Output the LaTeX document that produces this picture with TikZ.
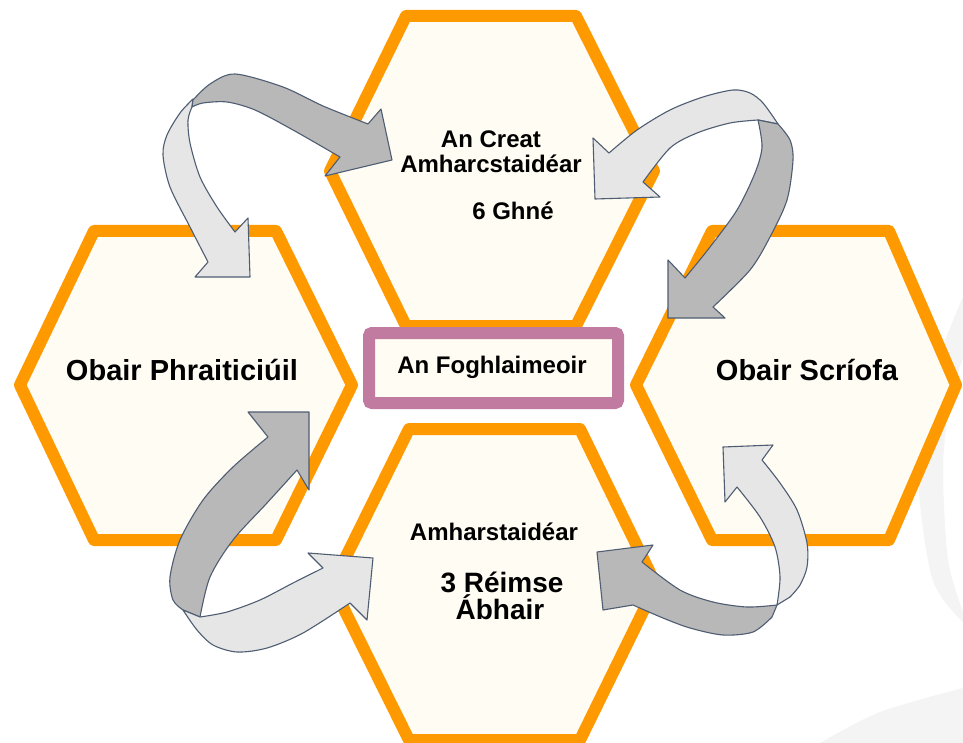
\documentclass[tikz,border=0pt]{standalone}
\usepackage{fontspec}
\setmainfont{Liberation Sans}
\definecolor{hexorange}{HTML}{FF9900}
\definecolor{hexfill}{HTML}{FFFCF3}
\definecolor{boxpink}{HTML}{C27BA0}
\definecolor{arrowdark}{HTML}{B8B8B8}
\definecolor{arrowlight}{HTML}{E6E6E6}
\definecolor{arrowline}{HTML}{4E5D72}
\definecolor{faintgrey}{HTML}{F4F4F4}
\begin{document}
\begin{tikzpicture}[x=1pt,y=-1pt,
  hexa/.style={draw=hexorange, fill=hexfill, line width=12pt, line join=round},
  centrebox/.style={draw=boxpink, fill=hexfill, line width=12pt, rounded corners=3pt},
  darkarrow/.style={draw=arrowline, fill=arrowdark, line width=1.1pt, line join=round},
  lightarrow/.style={draw=arrowline, fill=arrowlight, line width=1.1pt, line join=round},
  lbl/.style={anchor=base, inner sep=0pt, font=\bfseries\fontsize{#1}{#1}\selectfont},
  faint/.style={fill=faintgrey, draw=none}
]
\useasboundingbox (0,0) rectangle (963,743);
\fill[white] (0,0) rectangle (963,743);
% faint background shapes
\path[faint] plot[smooth] coordinates {(963,297) (935,370) (918,467) (932,578) (963,622)}
  -- plot[smooth] coordinates {(963,612) (948,560) (943,467) (950,400) (963,358)} -- cycle;
\path[faint] plot[smooth] coordinates {(820,743) (880,712) (963,688)} -- (963,743) -- cycle;

% hexagons
\draw[hexa] (406,16) -- (576,16) -- (654,171) -- (576,326) -- (406,326) -- (330,171) -- cycle;
\draw[hexa] (94,231) -- (276,231) -- (352,385) -- (276,540) -- (94,540) -- (20,385) -- cycle;
\draw[hexa] (712,231) -- (889,231) -- (956,385) -- (889,540) -- (712,540) -- (636,385) -- cycle;
\draw[hexa] (409,429) -- (580,429) -- (656,585) -- (580,740) -- (409,740) -- (332,585) -- cycle;

% centre box
\draw[centrebox] (369,333) rectangle (618,403);
\node[lbl=24] (learner) at (492,373) {An Foghlaimeoir};

% labels
\node[lbl=24] (creat1) at (491,148) {An Creat};
\node[lbl=24] (creat2) at (491,173) {Amharcstaidéar};
\node[lbl=24] (ghne) at (513,220) {6 Ghné};
\node[lbl=29] (praitic) at (182,380) {Obair Phraiticiúil};
\node[lbl=29] (scriofa) at (807,380) {Obair Scríofa};
\node[lbl=24] (amhar) at (494,540) {Amharstaidéar};
\node[lbl=28] (reimse) at (502,592) {3 Réimse};
\node[lbl=28] (abhair) at (500,619) {Ábhair};

% pair 1 (top left)
\path[lightarrow] (193,99) -- plot[smooth] coordinates {(193,99) (180,113) (167,135) (163,155) (170,187) (190,227) (208,262)}
  -- (195,277) -- (250,277) -- (248,218) -- (235,232)
  -- plot[smooth] coordinates {(235,232) (217,207) (200,177) (190,143) (188,120) (192,107)} -- cycle;
\path[darkarrow] (192,107) -- (193,100) -- plot[smooth] coordinates {(193,100) (210,84) (235,74) (283,87) (323,106) (368,124)}
  -- (381,109) -- (392,160) -- (325,176) -- (340,157)
  -- plot[smooth] coordinates {(340,157) (293,130) (255,110) (227,102) (203,103) (192,107)} -- cycle;

% pair 2 (top right)
\path[lightarrow] (778,124) -- plot[smooth] coordinates {(778,124) (763,103) (750,93) (733,90) (703,97) (670,110) (637,130) (609,153)}
  -- (593,138) -- (595,199) -- (660,197) -- (643,182)
  -- plot[smooth] coordinates {(643,182) (670,148) (697,133) (730,123) (758,120)} -- cycle;
\path[darkarrow] (758,120) -- (778,124) -- plot[smooth] coordinates {(778,124) (790,140) (793,160) (787,200) (770,237) (750,270) (713,307)}
  -- (725,318) -- (668,318) -- (668,260) -- (685,278)
  -- plot[smooth] coordinates {(685,278) (710,247) (737,210) (755,173) (762,147) (758,120)} -- cycle;

% pair 3 (bottom left)
\path[darkarrow] (183,610) -- plot[smooth] coordinates {(183,610) (173,600) (170,577) (180,540) (203,500) (233,467) (268,437)}
  -- (248,412) -- (309,412) -- (309,490) -- (297,470)
  -- plot[smooth] coordinates {(297,470) (267,503) (233,540) (210,577) (200,617)} -- cycle;
\path[lightarrow] (183,610) -- plot[smooth] coordinates {(183,610) (197,630) (213,645) (237,652) (267,648) (303,633) (350,603)}
  -- (367,620) -- (373,558) -- (308,553) -- (323,568)
  -- plot[smooth] coordinates {(323,568) (293,583) (260,600) (227,612) (200,617)} -- cycle;

% pair 4 (bottom right)
\path[darkarrow] (777,605) -- plot[smooth] coordinates {(777,605) (747,607) (713,602) (680,590) (642,562)}
  -- (653,545) -- (597,552) -- (603,610) -- (633,605)
  -- plot[smooth] coordinates {(633,605) (663,618) (690,628) (723,635) (753,632) (772,617)} -- cycle;
\path[lightarrow] (777,605) -- plot[smooth] coordinates {(777,605) (780,577) (775,547) (760,517) (737,487)}
  -- (725,502) -- (723,447) -- (773,445) -- (762,460)
  -- plot[smooth] coordinates {(762,460) (780,483) (797,510) (807,543) (807,567) (800,585) (790,597)} -- cycle;
\end{tikzpicture}
\end{document}
